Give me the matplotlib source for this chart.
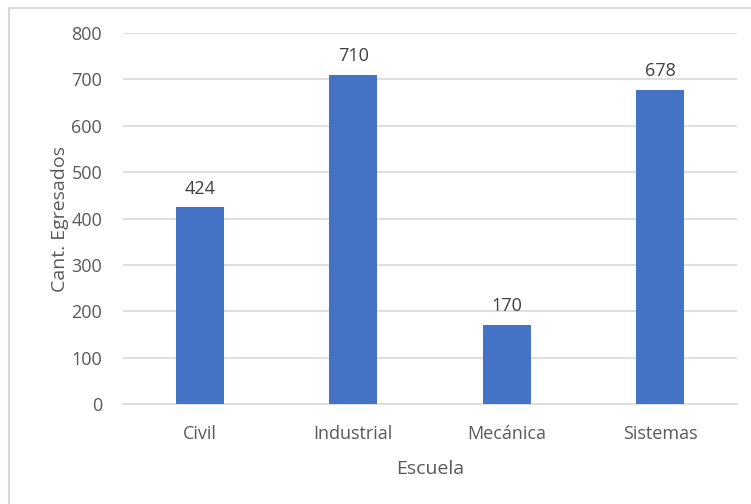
import matplotlib
matplotlib.use("Agg")
import matplotlib.pyplot as plt
from matplotlib.patches import Rectangle

categories = ["Civil", "Industrial", "Mecánica", "Sistemas"]
values = [424, 710, 170, 678]
yticks = [0, 100, 200, 300, 400, 500, 600, 700, 800]

plt.rcParams['font.family'] = ['Open Sans', 'DejaVu Sans']
fig = plt.figure(figsize=(7.51, 5.04), dpi=100)
fig.patch.set_facecolor('white')
fig.patches.append(Rectangle((9/751, -0.1), 1.2, 1 - 8/504 + 0.1, transform=fig.transFigure,
                             fill=False, edgecolor='#d9d9d9', linewidth=1.5, zorder=0))
ax = fig.add_axes([123/751, 1 - 404/504, (737 - 123)/751, (404 - 33)/504])
x = range(len(categories))
bars = ax.bar(x, values, width=0.31, color='#4472c4', zorder=3)
for xi, v in zip(x, values):
    ax.annotate(f"{v}", (xi, v), xytext=(0, 7), textcoords='offset points',
                ha='center', va='bottom', fontsize=13, color='#404040')
ax.set_xlim(-0.5, 3.5)
ax.set_ylim(0, 800)
ax.set_yticks(yticks)
ax.set_xticks(list(x))
ax.set_xticklabels(categories)
ax.grid(axis='y', color='#d9d9d9', linewidth=1.2, zorder=0)
for s in ['top', 'right', 'left']:
    ax.spines[s].set_visible(False)
ax.spines['bottom'].set_color('#d9d9d9')
ax.spines['bottom'].set_linewidth(1.2)
ax.tick_params(axis='both', length=0, labelsize=13, colors='#595959')
ax.tick_params(axis='y', pad=15)
ax.tick_params(axis='x', pad=15)
ax.set_xlabel("Escuela", fontsize=14, color='#595959', labelpad=12)
ax.set_ylabel("Cant. Egresados", fontsize=14, color='#595959', labelpad=2)
fig.savefig("out.png", dpi=100)
